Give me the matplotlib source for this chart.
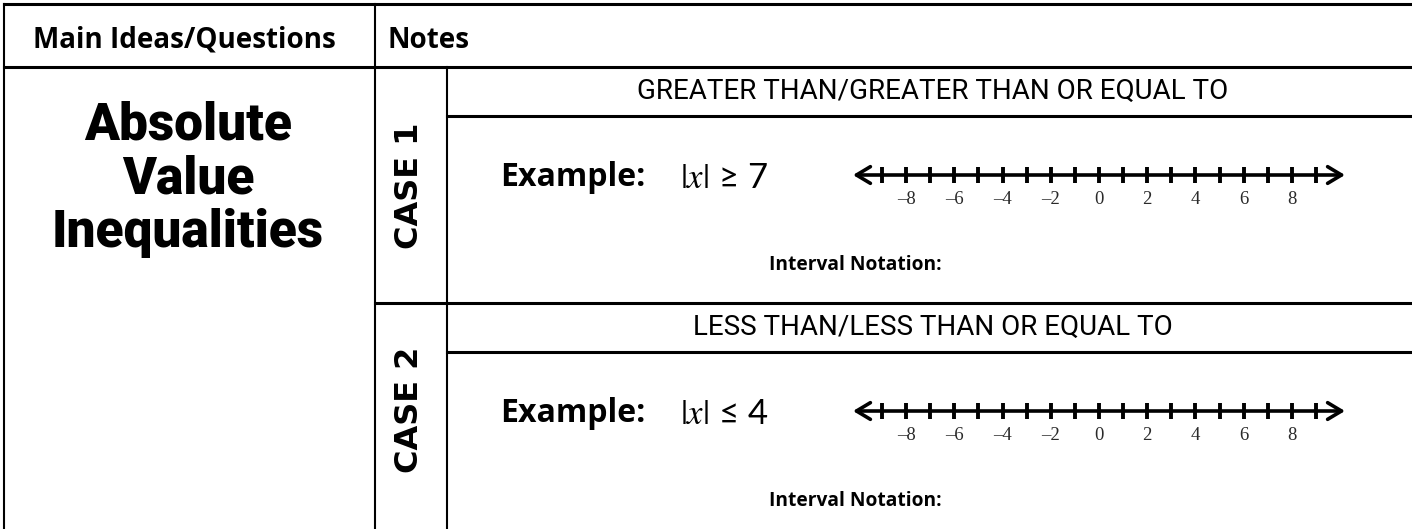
import matplotlib
matplotlib.use("Agg")
import matplotlib.pyplot as plt

plt.rcParams['mathtext.fontset'] = 'stix'

# table text
header_left = "Main Ideas/Questions"
header_right = "Notes"
topic_lines = ["Absolute", "Value", "Inequalities"]
case_names = ["CASE 1", "CASE 2"]
case_titles = ["GREATER THAN/GREATER THAN OR EQUAL TO",
               "LESS THAN/LESS THAN OR EQUAL TO"]
examples = ["$|x|$ \u2265 7", "$|x|$ \u2264 4"]
interval_label = "Interval Notation:"

# number line values
tick_values = list(range(-9, 10))
label_values = [-8, -6, -4, -2, 0, 2, 4, 6, 8]

W, H = 1412, 529
fig = plt.figure(figsize=(W / 100, H / 100), dpi=100)
ax = fig.add_axes([0, 0, 1, 1])
ax.set_xlim(0, W)
ax.set_ylim(H, 0)
ax.axis('off')

# grid lines (pixel coordinates)
thick = 2.2
thin = 1.5
ax.plot([4, W], [4, 4], color='black', lw=thick)
ax.plot([4, W], [67, 67], color='black', lw=thick)
ax.plot([4, 4], [4, H], color='black', lw=thin)
ax.plot([375, 375], [4, H], color='black', lw=thin)
ax.plot([447, 447], [67, H], color='black', lw=thin)
for top in [67, 303]:
    ax.plot([447, W], [top + 49, top + 49], color='black', lw=thick)
ax.plot([375, W], [303, 303], color='black', lw=thick)

# header
ax.text(184, 40, header_left, fontsize=20, fontweight='bold', family='Open Sans',
        ha='center', va='center')
ax.text(388, 40, header_right, fontsize=20, fontweight='bold', family='Open Sans',
        ha='left', va='center')

# topic
for i, word in enumerate(topic_lines):
    ax.text(188, 140 + 53.5 * i, word, fontsize=37, fontweight='heavy',
            family='Roboto', ha='center', va='baseline')

case_mid = [186, 410]
for k, top in enumerate([67, 303]):
    ax.text(409, case_mid[k], case_names[k], fontsize=23, fontweight='bold',
            family='DejaVu Sans', rotation=90, ha='center', va='center')
    ax.text(933, top + 24, case_titles[k], fontsize=20, family='Roboto',
            ha='center', va='center')
    ax.text(500, top + 111, "Example:", fontsize=23, fontweight='bold',
            family='Open Sans', ha='left', va='center')
    ax.text(680, top + 111, examples[k], fontsize=25, family='Lato',
            ha='left', va='center')
    ax.text(855, top + 198, interval_label, fontsize=13.8, fontweight='bold',
            family='Open Sans', ha='center', va='center')

    # number line in its own axes, 1 unit = 24.1 px
    yc = top + 108
    nax = fig.add_axes([853 / W, 1 - (yc + 40) / H, (1345 - 853) / W, 60 / H])
    nax.set_xlim(-10.2, 10.2)
    nax.set_ylim(-2, 1)
    nax.axis('off')
    nax.annotate('', xy=(10.2, 0), xytext=(-10.2, 0),
                 arrowprops=dict(arrowstyle='<->,head_length=1.0,head_width=0.6',
                                 lw=2.6, color='black', shrinkA=0, shrinkB=0))
    nax.vlines(tick_values, -0.42, 0.42, color='black', lw=2.8)
    for v in label_values:
        txt = str(v).replace('-', '\u2013')
        nax.text(v, -1.25, txt, fontsize=13.5, family='Liberation Serif',
                 color='#2a2a2a', ha='center', va='center')

fig.savefig('out.png', dpi=100)
